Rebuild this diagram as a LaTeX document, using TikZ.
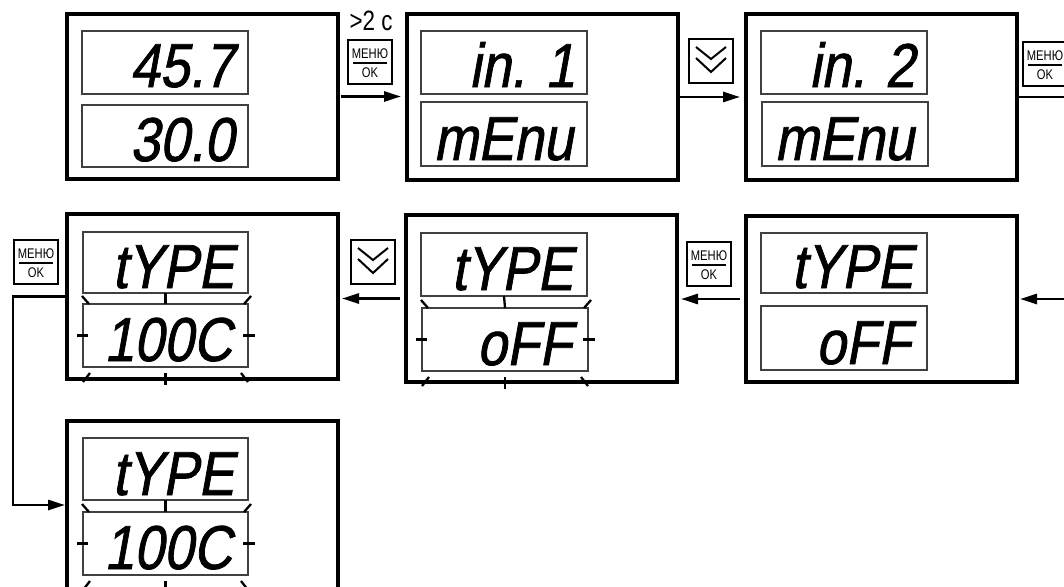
\documentclass[tikz,border=0pt]{standalone}
\usepackage{fontspec}
\setmainfont{Liberation Sans}
\newfontfamily\segfont[FakeSlant=0.18,FakeStretch=0.86,FakeBold=1.2]{Liberation Sans}
\newfontfamily\narrowfont[FakeStretch=0.8]{Liberation Sans}
\usetikzlibrary{arrows.meta,calc}
\tikzset{
 panel/.style={draw=black, line width=3.1pt, minimum width=271pt, minimum height=166pt, anchor=north west, inner sep=0pt, outer sep=0pt},
 disp/.style={draw=black!75, line width=1.4pt, minimum width=166pt, minimum height=63pt, anchor=north west, inner sep=0pt, outer sep=0pt},
 seg/.style={font=\segfont\fontsize{62}{62}\selectfont, anchor=base east, inner sep=0pt},
 btn/.style={draw=black, line width=1.9pt, minimum width=44pt, minimum height=44pt, anchor=north west, inner sep=0pt, outer sep=0pt},
 btnlabel/.style={font=\narrowfont\fontsize{14}{14}\selectfont, inner sep=0pt},
 conn/.style={line width=2.7pt},
 arr/.style={conn, -{Triangle[length=17pt,width=10pt]}},
 tick/.style={line width=2.3pt},
 chev/.style={line width=2pt, line join=miter},
}
\newcommand\menubutton[3]{%
 \node[btn] (#1) at (#2,#3) {};
 \node[btnlabel] (#1m) at ($(#1.center)+(0,-8)$) {МЕНЮ};
 \draw[line width=1.5pt] ($(#1.center)+(-17,1)$) -- ($(#1.center)+(17,1)$);
 \node[btnlabel] (#1o) at ($(#1.center)+(0,11)$) {OK};
}
\newcommand\downbutton[3]{%
 \node[btn] (#1) at (#2,#3) {};
 \draw[chev] ($(#1.center)+(-15,-14)$) -- ($(#1.center)+(0,-2)$) -- ($(#1.center)+(15,-14)$);
 \draw[chev] ($(#1.center)+(-15,-3)$) -- ($(#1.center)+(0,11)$) -- ($(#1.center)+(15,-3)$);
}
\newcommand\flashmarks[2]{%
 \draw[tick] ($(#1.north west)+(-1,-8)$) -- ($(#1.north west)+(6,0)$);
 \draw[tick] ($(#1.north east)+(3,-8)$) -- ($(#1.north east)+(-4,0)$);
 \draw[tick] (#2.south) -- (#1.north);
 \draw[tick] ($(#1.west)+(-6,0)$) -- ($(#1.west)+(5,0)$);
 \draw[tick] ($(#1.east)+(-5,0)$) -- ($(#1.east)+(7,0)$);
 \draw[tick] ($(#1.south west)+(0,15)$) -- ($(#1.south west)+(7,6)$);
 \draw[tick] ($(#1.south)+(0,6)$) -- ($(#1.south)+(0,18)$);
 \draw[tick] ($(#1.south east)+(-7,6)$) -- ($(#1.south east)+(0,15)$);
}
\begin{document}
\begin{tikzpicture}[x=1pt,y=-1pt]
\useasboundingbox (0,0) rectangle (1064,586);
\clip (0,0) rectangle (1064,586);
% ---------- row 1 ----------
\node[panel, minimum height=165pt] (p1) at (67,14) {};
\node[disp] (d1a) at (82,31) {};
\node[disp, minimum height=62pt] (d1b) at (82,105) {};
\node[seg] (t1a) at ($(d1a.south east)+(-14,-7)$) {45.7};
\node[seg] (t1b) at ($(d1b.south east)+(-14,-6)$) {30.0};

\node[panel] (p2) at (407,14) {};
\node[disp] (d2a) at (421,31) {};
\node[disp, minimum height=64pt] (d2b) at (421,102) {};
\node[seg] (t2a) at ($(d2a.south east)+(-12,-7)$) {in. 1};
\node[seg] (t2b) at ($(d2b.south east)+(-14,-6)$) {mEnu};

\node[panel] (p3) at (746,14) {};
\node[disp] (d3a) at (761,31) {};
\node[disp, minimum height=64pt] (d3b) at (762,102) {};
\node[seg] (t3a) at ($(d3a.south east)+(-12,-7)$) {in. 2};
\node[seg] (t3b) at ($(d3b.south east)+(-14,-6)$) {mEnu};

\menubutton{b1}{348}{40}
\node[font=\narrowfont\fontsize{28}{28}\selectfont, inner sep=0pt] (lbl) at ($(b1.north)+(1,-19)$) {>2 с};
\downbutton{c1}{689}{39}
\menubutton{b3}{1023}{42}

\draw[arr, shorten <=3pt, shorten >=6pt] (p1.east) -- (p1.east -| p2.west);
\draw[arr, shorten <=2pt, shorten >=6pt] (p2.east) -- (p2.east -| p3.west);
\coordinate (offR1) at (1070,97);
\draw[conn] (p3.east) -- (p3.east -| offR1);

% ---------- row 2 ----------
\node[panel, minimum height=165pt] (p4) at (67,214) {};
\node[disp, minimum width=165pt, minimum height=61pt] (d4a) at (83,232) {};
\node[disp, minimum width=165pt] (d4b) at (83,304) {};
\node[seg] (t4a) at ($(d4a.south east)+(-14,-5)$) {tYPE};
\node[seg] (t4b) at ($(d4b.south east)+(-16,-6)$) {100C};
\flashmarks{d4b}{d4a}

\node[panel, minimum height=167pt] (p5) at (406,215) {};
\node[disp] (d5a) at (421,233) {};
\node[disp] (d5b) at (422,308) {};
\node[seg] (t5a) at ($(d5a.south east)+(-14,-6)$) {tYPE};
\node[seg] (t5b) at ($(d5b.south east)+(-16,-6)$) {oFF};
\flashmarks{d5b}{d5a}

\node[panel] (p6) at (746,216) {};
\node[disp, minimum height=60pt] (d6a) at (761,233) {};
\node[disp, minimum height=64pt] (d6b) at (761,306) {};
\node[seg] (t6a) at ($(d6a.south east)+(-14,-5)$) {tYPE};
\node[seg] (t6b) at ($(d6b.south east)+(-16,-6)$) {oFF};

\menubutton{b4}{14}{240}
\downbutton{c4}{351}{240}
\menubutton{b5}{687}{242}

\coordinate (offR2) at (1070,299);
\draw[arr, shorten >=3pt] (p6.east -| offR2) -- (p6.east);
\draw[arr, shorten <=6pt, shorten >=4pt] (p6.west) -- (p6.west -| p5.east);
\draw[arr, shorten <=6pt, shorten >=4pt] (p5.west) -- (p5.west -| p4.east);

% ---------- row 3 ----------
\node[panel, minimum height=168pt] (p7) at (67,421) {};
\node[disp, minimum width=165pt, minimum height=62pt] (d7a) at (83,438) {};
\node[disp, minimum width=165pt] (d7b) at (83,512) {};
\node[seg] (t7a) at ($(d7a.south east)+(-14,-5)$) {tYPE};
\node[seg] (t7b) at ($(d7b.south east)+(-16,-6)$) {100C};
\flashmarks{d7b}{d7a}

\coordinate (bend) at (13,297);
\draw[arr, shorten >=2pt] (p4.west) -- (p4.west -| bend) |- (p7.west);
\end{tikzpicture}
\end{document}
